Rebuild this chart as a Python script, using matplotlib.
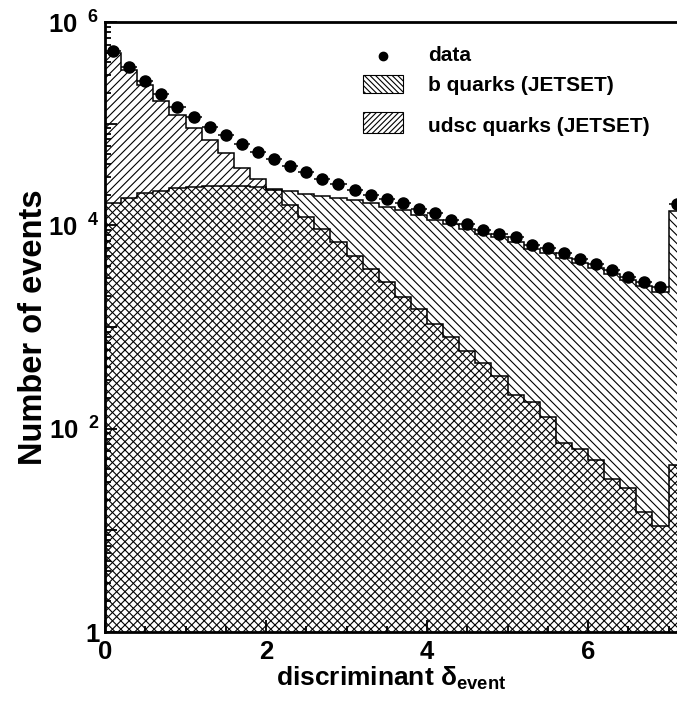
import numpy as np
import matplotlib
matplotlib.use("Agg")
import matplotlib.pyplot as plt
from matplotlib.patches import Rectangle
from matplotlib.lines import Line2D
from matplotlib.ticker import LogLocator, MultipleLocator, NullFormatter

plt.rcParams["font.family"] = ["Liberation Sans", "DejaVu Sans"]
plt.rcParams["font.weight"] = "bold"
plt.rcParams["mathtext.fontset"] = "custom"
plt.rcParams["mathtext.rm"] = "Liberation Sans:bold"
plt.rcParams["mathtext.bf"] = "Liberation Sans:bold"
plt.rcParams["mathtext.it"] = "Liberation Sans:bold"
plt.rcParams["hatch.linewidth"] = 0.8

# --- histogram content (bins of width 0.2, last bin 7.0-7.2) ---------------
bin_edges = np.round(np.arange(0.0, 7.21, 0.2), 1)
bin_centers = np.round(bin_edges[:-1] + 0.1, 2)

data_events = [
    5.2e5, 3.57e5, 2.62e5, 1.95e5, 1.46e5,
    1.17e5, 9.3e4, 7.7e4, 6.3e4, 5.28e4,
    4.45e4, 3.85e4, 3.34e4, 2.83e4, 2.54e4,
    2.25e4, 2.01e4, 1.80e4, 1.66e4, 1.44e4,
    1.31e4, 1.14e4, 1.02e4, 8.9e3, 8.25e3,
    7.65e3, 6.43e3, 5.97e3, 5.3e3, 4.65e3,
    4.15e3, 3.63e3, 3.07e3, 2.78e3, 2.48e3,
    1.62e4,
]
b_quarks = [
    1.67e4, 1.85e4, 2.09e4, 2.20e4, 2.32e4,
    2.40e4, 2.43e4, 2.45e4, 2.44e4, 2.40e4,
    2.28e4, 2.18e4, 2.05e4, 1.95e4, 1.87e4,
    1.78e4, 1.65e4, 1.51e4, 1.40e4, 1.25e4,
    1.14e4, 1.02e4, 9.3e3, 8.2e3, 7.6e3,
    6.9e3, 5.9e3, 5.4e3, 4.72e3, 4.22e3,
    3.77e3, 3.3e3, 2.89e3, 2.55e3, 2.22e3,
    1.39e4,
]
udsc_quarks = [
    5.0e5, 3.41e5, 2.39e5, 1.66e5, 1.21e5,
    8.97e4, 6.88e4, 5.09e4, 3.63e4, 2.83e4,
    2.25e4, 1.58e4, 1.20e4, 9.1e3, 6.9e3,
    5.04e3, 3.68e3, 2.75e3, 1.98e3, 1.52e3,
    1.08e3, 801, 583, 445, 331,
    214, 184, 131, 73, 63,
    49, 32, 26, 15, 11,
    44,
]

y_major = [1, 1e1, 1e2, 1e3, 1e4, 1e5, 1e6]
y_labels = ["1", "", r"$10^{\ \ 2}$", "", r"$10^{\ \ 4}$", "", r"$10^{\ \ 6}$"]
x_major = [0, 2, 4, 6]

W, H = 677, 706
fig = plt.figure(figsize=(W / 100, H / 100), dpi=100)
ax = fig.add_axes([105 / W, 74 / H, 572 / W, 610 / H])

# overlapping (not stacked) MC histograms -> cross-hatch where both cover
ax.stairs(udsc_quarks, bin_edges, baseline=1e-2, fill=True, facecolor="none",
          edgecolor="black", hatch="////", lw=1.1)
ax.stairs(b_quarks, bin_edges, baseline=1e-2, fill=True, facecolor="none",
          edgecolor="black", hatch="\\\\\\\\", lw=1.1)

ax.errorbar(bin_centers, data_events, xerr=0.1, fmt="o", color="black",
            ms=8, elinewidth=1.1, capsize=0, zorder=5)

ax.set_yscale("log")
ax.set_ylim(1, 1e6)
ax.set_xlim(0, 572 / 80.5)

ax.set_yticks(y_major)
ax.set_yticklabels(y_labels)
ax.yaxis.set_minor_locator(LogLocator(base=10, subs=range(2, 10)))
ax.yaxis.set_minor_formatter(NullFormatter())
ax.set_xticks(x_major)
ax.set_xticklabels([str(v) for v in x_major])
ax.xaxis.set_minor_locator(MultipleLocator(0.5))

ax.tick_params(which="both", direction="in", top=False, right=False,
               width=1.3, labelsize=18.5)
ax.tick_params(which="major", length=8.5)
ax.tick_params(which="minor", length=4)
ax.tick_params(axis="x", pad=6)
ax.tick_params(axis="y", pad=4)

for side in ("left", "bottom", "top"):
    ax.spines[side].set_linewidth(2.0)
ax.spines["right"].set_visible(False)

ax.set_xlabel("discriminant δ$_{\\mathbf{event}}$", fontsize=19,
              fontweight="bold", labelpad=0)
ax.set_ylabel("Number of events", fontsize=23.5, fontweight="bold",
              labelpad=-1)

# legend, drawn by hand to keep the original spacing
tr = ax.transAxes
ax.add_line(Line2D([0.486], [0.944], marker="o", color="black", ms=6,
                   transform=tr, clip_on=False))
ax.add_patch(Rectangle((0.4505, 0.8831), 0.071, 0.030, transform=tr,
                       facecolor="white", edgecolor="black",
                       hatch="\\\\\\\\\\\\", lw=0.8, zorder=6))
ax.add_patch(Rectangle((0.4505, 0.8175), 0.071, 0.0354, transform=tr,
                       facecolor="white", edgecolor="black",
                       hatch="//////", lw=0.8, zorder=6))
ax.text(0.5647, 0.945, "data", transform=tr, va="center", fontsize=15)
ax.text(0.5647, 0.896, "b quarks (JETSET)", transform=tr, va="center",
        fontsize=15)
ax.text(0.5647, 0.829, "udsc quarks (JETSET)", transform=tr, va="center",
        fontsize=15)

fig.savefig("out.png", dpi=100, facecolor="white")
